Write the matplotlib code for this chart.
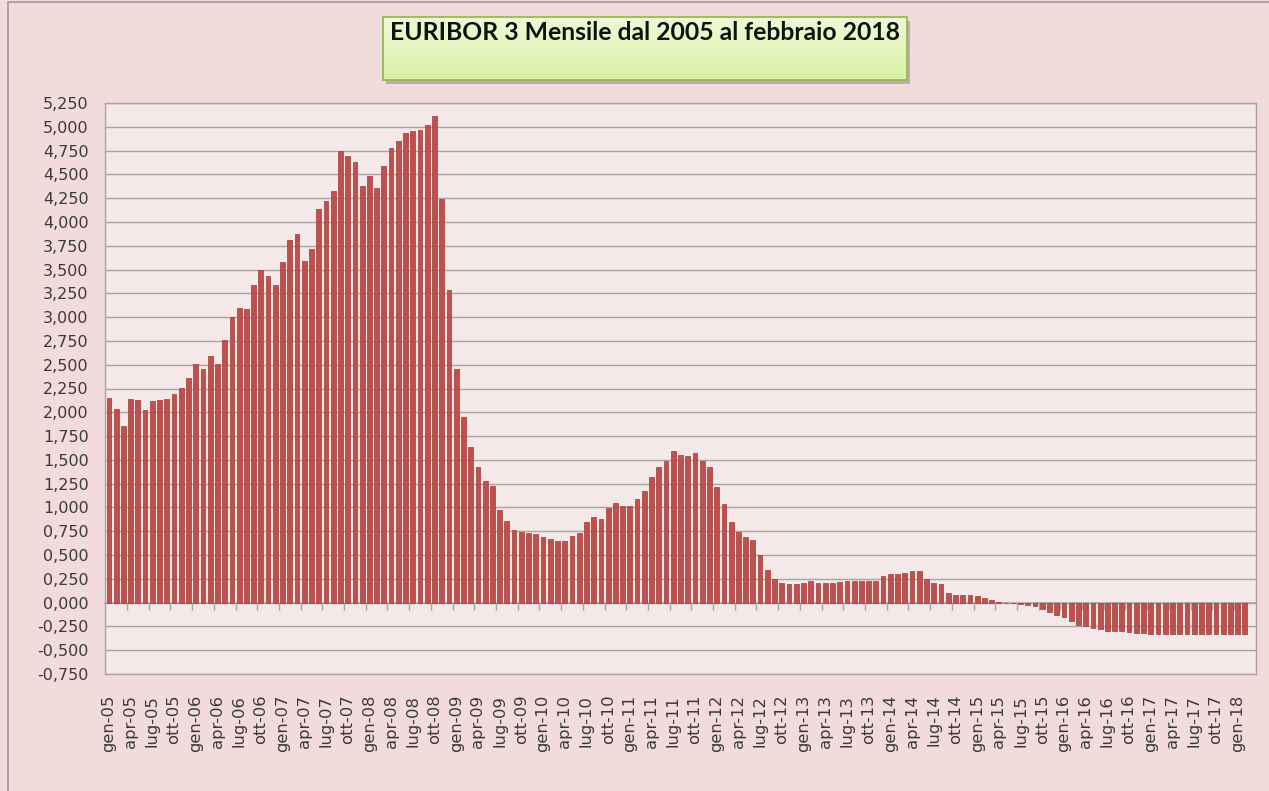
import numpy as np
import matplotlib
matplotlib.use("Agg")
import matplotlib.pyplot as plt
from matplotlib.patches import Rectangle
from matplotlib.colors import LinearSegmentedColormap

# Euribor 3M, monthly values (gen-05 .. feb-18)
values_2005 = [2.155, 2.034, 1.857, 2.137, 2.126, 2.023, 2.119, 2.130, 2.137, 2.197, 2.254, 2.364]
values_2006 = [2.509, 2.459, 2.594, 2.509, 2.760, 2.998, 3.101, 3.090, 3.342, 3.498, 3.434, 3.335]
values_2007 = [3.583, 3.809, 3.877, 3.593, 3.717, 4.139, 4.220, 4.330, 4.741, 4.688, 4.635, 4.383]
values_2008 = [4.479, 4.355, 4.592, 4.780, 4.851, 4.940, 4.957, 4.968, 5.018, 5.113, 4.238, 3.288]
values_2009 = [2.459, 1.946, 1.635, 1.425, 1.278, 1.225, 0.973, 0.861, 0.763, 0.746, 0.728, 0.721]
values_2010 = [0.686, 0.669, 0.651, 0.651, 0.697, 0.728, 0.844, 0.896, 0.875, 0.998, 1.043, 1.015]
values_2011 = [1.015, 1.085, 1.169, 1.320, 1.425, 1.488, 1.596, 1.554, 1.537, 1.572, 1.488, 1.425]
values_2012 = [1.215, 1.040, 0.851, 0.746, 0.686, 0.662, 0.504, 0.340, 0.250, 0.211, 0.200, 0.194]
values_2013 = [0.208, 0.225, 0.208, 0.208, 0.208, 0.218, 0.225, 0.225, 0.225, 0.225, 0.225, 0.278]
values_2014 = [0.296, 0.296, 0.313, 0.331, 0.331, 0.246, 0.208, 0.200, 0.102, 0.085, 0.085, 0.085]
values_2015 = [0.067, 0.049, 0.025, 0.010, -0.003, -0.007, -0.018, -0.025, -0.039, -0.063, -0.095, -0.130]
values_2016 = [-0.148, -0.194, -0.236, -0.250, -0.264, -0.278, -0.303, -0.303, -0.303, -0.313, -0.320, -0.320]
values_2017 = [-0.330, -0.330, -0.330, -0.330, -0.330, -0.330, -0.330, -0.330, -0.330, -0.330, -0.330, -0.330]
values_2018 = [-0.330, -0.330]

months = ["gen", "feb", "mar", "apr", "mag", "giu", "lug", "ago", "set", "ott", "nov", "dic"]
years = list(range(2005, 2019))

values = (values_2005 + values_2006 + values_2007 + values_2008 + values_2009
          + values_2010 + values_2011 + values_2012 + values_2013 + values_2014
          + values_2015 + values_2016 + values_2017 + values_2018)
categories = [f"{m}-{str(y)[2:]}" for y in years for m in months][:len(values)]

y_ticks = np.arange(-0.75, 5.26, 0.25)

FIG_BG = "#F2DCDB"
PLOT_BG = "#F4E8E8"
GRID = "#ABA3A3"
BAR = "#C0504D"
TEXT = "#3A3A3A"

plt.rcParams["font.family"] = ["DejaVu Sans"]

W, H = 1269, 791
fig = plt.figure(figsize=(W / 100, H / 100), dpi=100, facecolor=FIG_BG)

# chart area frame (gray line left and top)
fig.patches.append(Rectangle((8 / W, -0.1), 1.2, 1.1 - 2 / H, transform=fig.transFigure,
                             facecolor="none", edgecolor="#9A9A9A", linewidth=1.2))

ax = fig.add_axes([105.3 / W, 1 - 674 / H, (1255.7 - 105.3) / W, (674 - 103) / H])
ax.set_facecolor(PLOT_BG)

x = np.arange(len(values))
ax.bar(x, values, width=0.66, color=BAR, edgecolor="#9E3C39", linewidth=0.5, zorder=3)

ax.set_xlim(-0.5, len(values) + 0.5)
ax.set_ylim(-0.75, 5.25)
ax.set_yticks(y_ticks)
ax.set_yticklabels([f"{v:.3f}".replace(".", ",") for v in y_ticks])
ax.yaxis.grid(True, color=GRID, linewidth=1.0, zorder=1)
ax.tick_params(axis="y", length=0, pad=12, labelsize=11.5, labelcolor=TEXT)

tick_idx = x[::3]
ax.set_xticks(tick_idx)
ax.set_xticklabels([categories[i] for i in tick_idx], rotation=90)
ax.tick_params(axis="x", length=0, pad=15, labelsize=11.8, labelcolor=TEXT)

for s in ax.spines.values():
    s.set_color(GRID)
    s.set_linewidth(1.0)

# horizontal category axis at zero, with tick marks between groups of 3 months
zero_frac = 0.75 / 6.0
sec = ax.secondary_xaxis(zero_frac)
sec.set_xticks(np.arange(2.5, len(values), 3))
sec.tick_params(axis="x", length=5, width=1.0, color=GRID, labelbottom=False)
sec.spines["bottom"].set_color(GRID)
sec.spines["bottom"].set_linewidth(1.2)

# title box with gradient and shadow
bx0, by0, bx1, by1 = 383, 17, 907, 80
shadow = Rectangle(((bx0 + 3) / W, 1 - (by1 + 4) / H), (bx1 - bx0) / W, (by1 - by0) / H,
                   transform=fig.transFigure, facecolor="#9A9090", alpha=0.6,
                   edgecolor="none", zorder=-1)
fig.patches.append(shadow)
tax = fig.add_axes([bx0 / W, 1 - by1 / H, (bx1 - bx0) / W, (by1 - by0) / H])
tax.set_zorder(2)
grad = np.linspace(0, 1, 100).reshape(-1, 1)
cmap = LinearSegmentedColormap.from_list("g", ["#F1F8D6", "#D8F2A4"])
tax.imshow(grad, aspect="auto", cmap=cmap, extent=[0, 1, 0, 1], origin="upper")
tax.set_xticks([])
tax.set_yticks([])
for s in tax.spines.values():
    s.set_color("#98B954")
    s.set_linewidth(1.3)

tax.text(0.5, 1 - 16 / (by1 - by0), "EURIBOR 3 Mensile dal 2005 al febbraio 2018",
         transform=tax.transAxes, ha="center", va="center", fontsize=17.8,
         fontweight="bold", color="#111111", family=["Lato", "DejaVu Sans"])

fig.savefig("out.png", dpi=100, facecolor=FIG_BG)
